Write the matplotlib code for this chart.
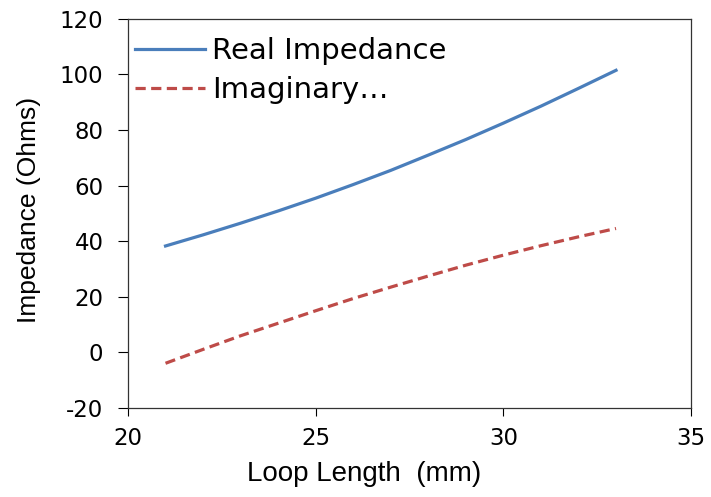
import numpy as np
import matplotlib
matplotlib.use("Agg")
import matplotlib.pyplot as plt

# 数据
loop_length = [21, 22, 23, 24, 25, 26, 27, 28, 29, 30, 31, 32, 33]
real_imp = [38.3, 42.3, 46.5, 50.9, 55.5, 60.4, 65.5, 71.0, 76.6, 82.5, 88.6, 95.0, 101.5]
imag_imp = [-3.9, 1.1, 6.0, 10.5, 15.0, 19.4, 23.5, 27.5, 31.4, 35.0, 38.4, 41.6, 44.6]

x_ticks = [20, 25, 30, 35]
y_ticks = [-20, 0, 20, 40, 60, 80, 100, 120]

plt.rcParams['font.family'] = ['DejaVu Sans']
plt.rcParams['axes.unicode_minus'] = False

fig = plt.figure(figsize=(7.11, 4.97), dpi=100)
ax = fig.add_axes([0.180, 0.179, 0.792, 0.783])

ax.plot(loop_length, real_imp, color='#4A7EBB', lw=2.3, label='Real Impedance')
ax.plot(loop_length, imag_imp, color='#BE4B48', lw=2.3, ls=(0, (3.2, 1.7)),
        label='Imaginary…')

ax.set_xlim(20, 35)
ax.set_ylim(-20, 120)
ax.set_xticks(x_ticks)
ax.set_yticks(y_ticks)
ax.tick_params(direction='out', width=0.8, labelsize=16.5, colors='black')
ax.tick_params(axis='y', length=7.2, pad=10.5)
ax.tick_params(axis='x', length=6, pad=8)
for s in ax.spines.values():
    s.set_linewidth(0.9)
    s.set_color('#333333')

ax.set_xlabel('Loop Length  (mm)', fontsize=20,
              family=['Liberation Sans', 'DejaVu Sans'])
ax.xaxis.set_label_coords(0.42, -0.135)
ax.set_ylabel('Impedance (Ohms)', fontsize=19,
              family=['Liberation Sans', 'DejaVu Sans'])
ax.yaxis.set_label_coords(-0.155, 0.51)

leg = ax.legend(loc='upper left', bbox_to_anchor=(0.012, 0.953), frameon=False,
                borderpad=0, borderaxespad=0,
                handlelength=2.4, handletextpad=0.26, labelspacing=0.37,
                prop={'family': ['DejaVu Sans'], 'size': 21})

fig.savefig('out.png', dpi=100)
